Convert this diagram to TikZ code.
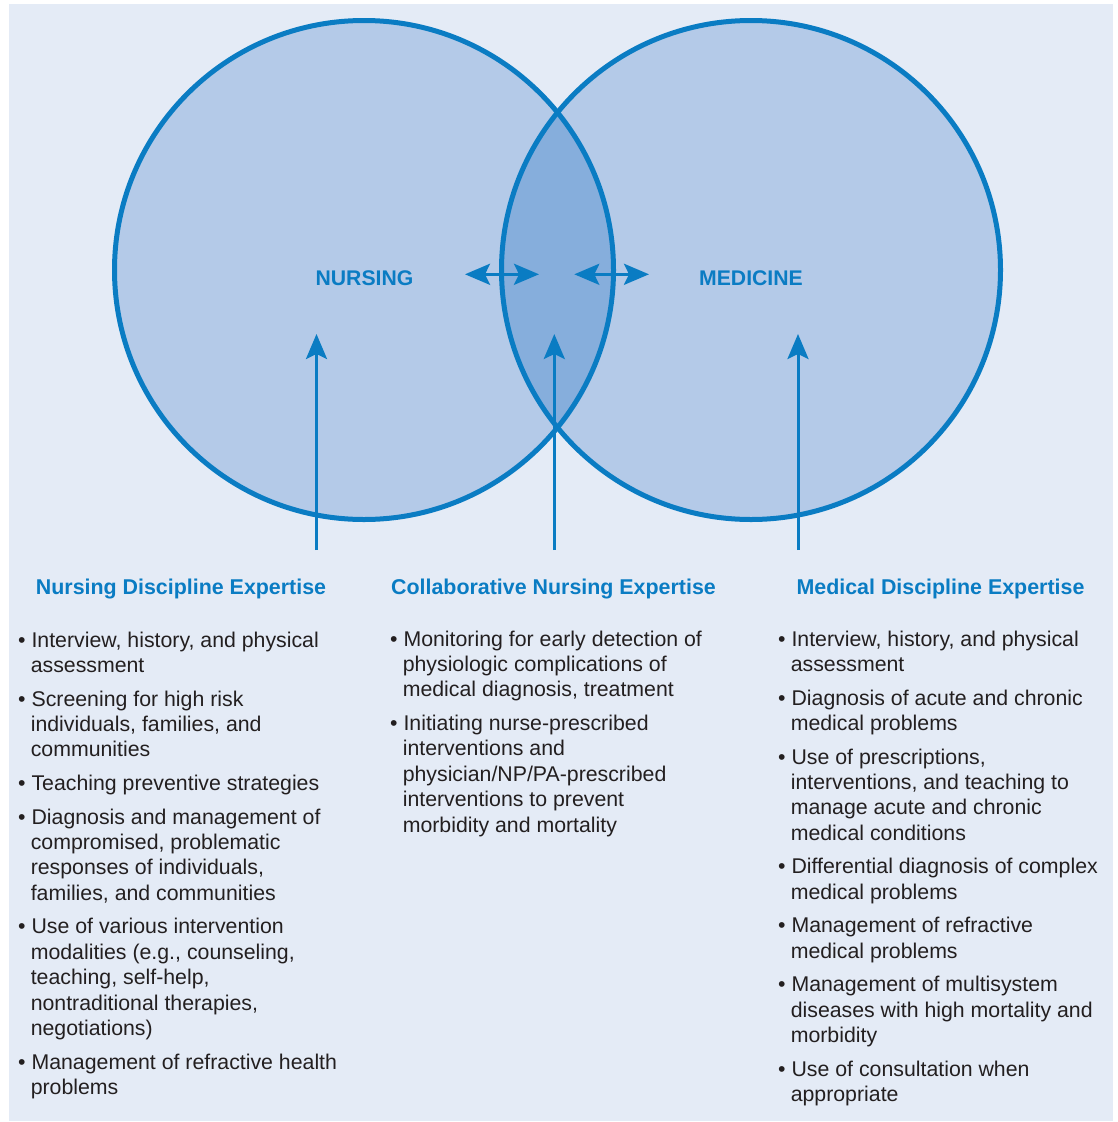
\documentclass[tikz,border=0pt]{standalone}
\usepackage{fontspec}
\setmainfont{Liberation Sans}
\usetikzlibrary{arrows.meta}
\definecolor{bgc}{RGB}{228,235,246}
\definecolor{circ}{RGB}{180,202,232}
\definecolor{lens}{RGB}{134,174,220}
\definecolor{blu}{RGB}{10,124,195}
\definecolor{txt}{RGB}{35,31,32}
\newlength\bulw
\newcommand\bitem{\par\hangindent=\bulw\hangafter=1\relax\textbullet\ }
\newcommand\colbody[1]{\parbox[t]{334pt}{\fontsize{21.3}{25.4}\selectfont\setlength\parskip{8.2pt}\settowidth\bulw{\textbullet\ }\addtolength\bulw{-0.8pt}\rightskip=0pt plus 1fil\relax\hyphenpenalty=10000\relax #1\par}}
\begin{document}
\begin{tikzpicture}[x=1pt,y=-1pt,
  tipb/.tip={Stealth[length=25pt,width=21pt,inset=5pt]},
  arr/.style={draw=blu, line width=3pt, -tipb},
  darr/.style={draw=blu, line width=3pt, tipb-tipb},
  ring/.style={draw=blu, line width=5pt},
  lbl/.style={anchor=base, inner sep=0pt, text=blu, font=\fontsize{21.2}{25}\selectfont\bfseries},
  head/.style={anchor=base, inner sep=0pt, text=blu, font=\fontsize{21.4}{25}\selectfont\bfseries},
  listbox/.style={anchor=base west, inner sep=0pt, text=txt}]
\useasboundingbox (0,0) rectangle (1118,1122);
\fill[bgc] (9,4) rectangle (1112.5,1121);
% circles
\fill[circ] (364,270) circle[radius=249.5pt];
\fill[circ] (751,270) circle[radius=249.5pt];
\begin{scope}
  \clip (364,270) circle[radius=249.5pt];
  \fill[lens] (751,270) circle[radius=249.5pt];
\end{scope}
\draw[ring] (364,270) circle[radius=249.5pt];
\draw[ring] (751,270) circle[radius=249.5pt];
% labels
\node[lbl] (nurs) at (364.5,285) {NURSING};
\node[lbl] (med) at (751,285) {MEDICINE};
% horizontal arrows
\coordinate (ha1) at (465,274.3);
\coordinate (ha2) at (539,274.3);
\coordinate (hb1) at (574.3,274.3);
\coordinate (hb2) at (649,274.3);
\draw[darr] (ha1) -- (ha2);
\draw[darr] (hb1) -- (hb2);
% vertical arrows
\coordinate (v1s) at (316.5,550);
\coordinate (v1e) at (316.5,334);
\coordinate (v2s) at (554.3,550);
\coordinate (v2e) at (554.3,334);
\coordinate (v3s) at (798,550);
\coordinate (v3e) at (798,334);
\draw[arr] (v1s) -- (v1e);
\draw[arr] (v2s) -- (v2e);
\draw[arr] (v3s) -- (v3e);
% headings
\node[head] (h1) at (181,594.5) {Nursing Discipline Expertise};
\node[head] (h2) at (553.5,594.5) {Collaborative Nursing Expertise};
\node[head] (h3) at (940.5,594.5) {Medical Discipline Expertise};
% lists
\node[listbox] (l1) at (18,647) {\colbody{%
\bitem Interview, history, and physical\newline assessment
\bitem Screening for high risk\newline individuals, families, and\newline communities
\bitem Teaching preventive strategies
\bitem Diagnosis and management of\newline compromised, problematic\newline responses of individuals,\newline families, and communities
\bitem Use of various intervention\newline modalities (e.g., counseling,\newline teaching, self-help,\newline nontraditional therapies,\newline negotiations)
\bitem Management of refractive health\newline problems}};
\node[listbox] (l2) at (390,646) {\colbody{%
\bitem Monitoring for early detection of\newline physiologic complications of\newline medical diagnosis, treatment
\bitem Initiating nurse-prescribed\newline interventions and\newline physician/NP/PA-prescribed\newline interventions to prevent\newline morbidity and mortality}};
\node[listbox] (l3) at (778,646) {\colbody{%
\bitem Interview, history, and physical\newline assessment
\bitem Diagnosis of acute and chronic\newline medical problems
\bitem Use of prescriptions,\newline interventions, and teaching to\newline manage acute and chronic\newline medical conditions
\bitem Differential diagnosis of complex\newline medical problems
\bitem Management of refractive\newline medical problems
\bitem Management of multisystem\newline diseases with high mortality and\newline morbidity
\bitem Use of consultation when\newline appropriate}};
\end{tikzpicture}
\end{document}
